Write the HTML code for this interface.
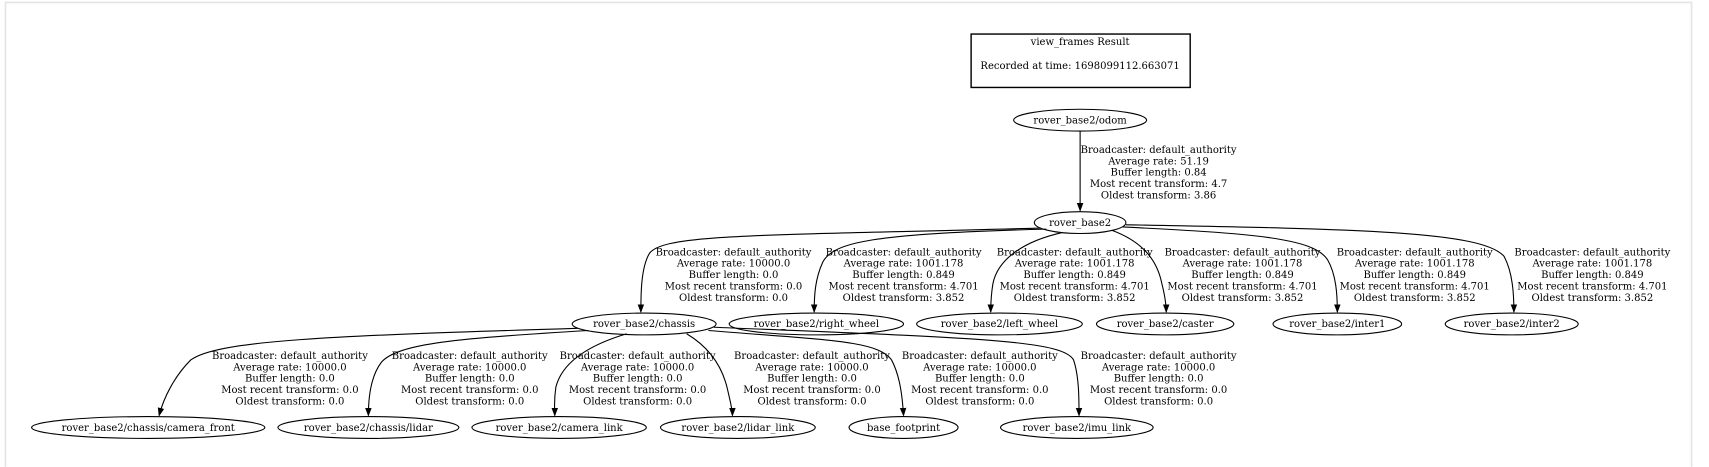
<!DOCTYPE html>
<html><head><meta charset="utf-8"><style>
html,body{margin:0;padding:0;background:#fff;width:1709px;height:467px;overflow:hidden}
svg{display:block}
text{font-family:"DejaVu Serif","Liberation Serif",serif;font-size:9.2px;fill:#000}
.e{fill:none;stroke:#000;stroke-width:1}
</style></head><body>
<svg width="1709" height="467" viewBox="0 0 1568 428" xmlns="http://www.w3.org/2000/svg">
<defs><marker id="a" markerWidth="8" markerHeight="8" refX="7" refY="4" orient="auto" markerUnits="userSpaceOnUse"><path d="M0,1 L8,4 L0,7 Z" fill="#000"/></marker></defs>
<rect x="0" y="0" width="1568" height="428" fill="#fff"/>
<path d="M5,428 L5,2 L1552,2 L1552,428" fill="none" stroke="#e4e4e4" stroke-width="1.5"/>
<rect x="891" y="31" width="201" height="49" fill="none" stroke="#000" stroke-width="1.3"/>
<text x="991" y="41" text-anchor="middle">view_frames Result</text>
<text x="991" y="63" text-anchor="middle">Recorded at time: 1698099112.663071</text>

<g class="e" stroke="#000" fill="none">
<ellipse cx="991" cy="110" rx="61" ry="10"/>
<ellipse cx="991" cy="204" rx="42" ry="10"/>
<ellipse cx="591" cy="297" rx="66" ry="10"/>
<ellipse cx="749" cy="297" rx="80" ry="10"/>
<ellipse cx="917" cy="297" rx="76" ry="10"/>
<ellipse cx="1069" cy="297" rx="63" ry="10"/>
<ellipse cx="1227" cy="297" rx="59" ry="10"/>
<ellipse cx="1387" cy="297" rx="61" ry="10"/>
<ellipse cx="136" cy="392" rx="107" ry="10"/>
<ellipse cx="338" cy="392" rx="83" ry="10"/>
<ellipse cx="513" cy="392" rx="80" ry="10"/>
<ellipse cx="677" cy="392" rx="71" ry="10"/>
<ellipse cx="829" cy="392" rx="50" ry="10"/>
<ellipse cx="988" cy="392" rx="70" ry="10"/>
</g>
<g font-size="9.2">
<text x="991" y="113" text-anchor="middle">rover_base2/odom</text>
<text x="991" y="207" text-anchor="middle">rover_base2</text>
<text x="591" y="300" text-anchor="middle">rover_base2/chassis</text>
<text x="749" y="300" text-anchor="middle">rover_base2/right_wheel</text>
<text x="917" y="300" text-anchor="middle">rover_base2/left_wheel</text>
<text x="1069" y="300" text-anchor="middle">rover_base2/caster</text>
<text x="1227" y="300" text-anchor="middle">rover_base2/inter1</text>
<text x="1387" y="300" text-anchor="middle">rover_base2/inter2</text>
<text x="136" y="395" text-anchor="middle">rover_base2/chassis/camera_front</text>
<text x="338" y="395" text-anchor="middle">rover_base2/chassis/lidar</text>
<text x="513" y="395" text-anchor="middle">rover_base2/camera_link</text>
<text x="677" y="395" text-anchor="middle">rover_base2/lidar_link</text>
<text x="829" y="395" text-anchor="middle">base_footprint</text>
<text x="988" y="395" text-anchor="middle">rover_base2/imu_link</text>
</g>

<g class="e" marker-end="url(#a)">
<path d="M991,120 L991,193"/>
<path d="M955,209 C700,216 610,214 596,232 C588,245 588,270 588,286"/>
<path d="M960,210 C800,214 765,222 755,240 C748,255 747,270 747,286"/>
<path d="M975,213 C935,222 915,240 911,260 C909,272 909,280 909,286"/>
<path d="M1020,211 C1050,222 1062,240 1066,260 C1069,272 1070,280 1070,286"/>
<path d="M1030,208 C1150,214 1205,218 1218,238 C1226,252 1227,270 1227,286"/>
<path d="M1033,206 C1250,210 1360,212 1380,235 C1388,250 1389,270 1389,286"/>
<path d="M530,301 C300,308 200,312 175,330 C160,345 150,365 146,381"/>
<path d="M540,303 C420,310 365,315 350,332 C340,345 338,365 338,381"/>
<path d="M575,306 C535,318 515,335 510,355 C508,368 509,375 509,381"/>
<path d="M630,306 C650,318 662,335 667,355 C670,368 672,375 672,381"/>
<path d="M650,303 C760,312 805,312 818,330 C826,345 828,365 829,381"/>
<path d="M655,300 C900,310 975,312 985,330 C990,345 990,365 990,381"/>
</g>

<g text-anchor="middle">
<text x="1063" y="140">Broadcaster: default_authority</text>
<text x="1063" y="150.5">Average rate: 51.19</text>
<text x="1063" y="161">Buffer length: 0.84</text>
<text x="1063" y="171.5">Most recent transform: 4.7</text>
<text x="1063" y="182">Oldest transform: 3.86</text>

<text x="673" y="234">Broadcaster: default_authority</text>
<text x="673" y="244.5">Average rate: 10000.0</text>
<text x="673" y="255">Buffer length: 0.0</text>
<text x="673" y="265.5">Most recent transform: 0.0</text>
<text x="673" y="276">Oldest transform: 0.0</text>

<text x="829" y="234">Broadcaster: default_authority</text>
<text x="829" y="244.5">Average rate: 1001.178</text>
<text x="829" y="255">Buffer length: 0.849</text>
<text x="829" y="265.5">Most recent transform: 4.701</text>
<text x="829" y="276">Oldest transform: 3.852</text>

<text x="986" y="234">Broadcaster: default_authority</text>
<text x="986" y="244.5">Average rate: 1001.178</text>
<text x="986" y="255">Buffer length: 0.849</text>
<text x="986" y="265.5">Most recent transform: 4.701</text>
<text x="986" y="276">Oldest transform: 3.852</text>

<text x="1140" y="234">Broadcaster: default_authority</text>
<text x="1140" y="244.5">Average rate: 1001.178</text>
<text x="1140" y="255">Buffer length: 0.849</text>
<text x="1140" y="265.5">Most recent transform: 4.701</text>
<text x="1140" y="276">Oldest transform: 3.852</text>

<text x="1298" y="234">Broadcaster: default_authority</text>
<text x="1298" y="244.5">Average rate: 1001.178</text>
<text x="1298" y="255">Buffer length: 0.849</text>
<text x="1298" y="265.5">Most recent transform: 4.701</text>
<text x="1298" y="276">Oldest transform: 3.852</text>

<text x="1461" y="234">Broadcaster: default_authority</text>
<text x="1461" y="244.5">Average rate: 1001.178</text>
<text x="1461" y="255">Buffer length: 0.849</text>
<text x="1461" y="265.5">Most recent transform: 4.701</text>
<text x="1461" y="276">Oldest transform: 3.852</text>

<text x="266" y="329">Broadcaster: default_authority</text>
<text x="266" y="339.5">Average rate: 10000.0</text>
<text x="266" y="350">Buffer length: 0.0</text>
<text x="266" y="360.5">Most recent transform: 0.0</text>
<text x="266" y="371">Oldest transform: 0.0</text>

<text x="431" y="329">Broadcaster: default_authority</text>
<text x="431" y="339.5">Average rate: 10000.0</text>
<text x="431" y="350">Buffer length: 0.0</text>
<text x="431" y="360.5">Most recent transform: 0.0</text>
<text x="431" y="371">Oldest transform: 0.0</text>

<text x="585" y="329">Broadcaster: default_authority</text>
<text x="585" y="339.5">Average rate: 10000.0</text>
<text x="585" y="350">Buffer length: 0.0</text>
<text x="585" y="360.5">Most recent transform: 0.0</text>
<text x="585" y="371">Oldest transform: 0.0</text>

<text x="745" y="329">Broadcaster: default_authority</text>
<text x="745" y="339.5">Average rate: 10000.0</text>
<text x="745" y="350">Buffer length: 0.0</text>
<text x="745" y="360.5">Most recent transform: 0.0</text>
<text x="745" y="371">Oldest transform: 0.0</text>

<text x="899" y="329">Broadcaster: default_authority</text>
<text x="899" y="339.5">Average rate: 10000.0</text>
<text x="899" y="350">Buffer length: 0.0</text>
<text x="899" y="360.5">Most recent transform: 0.0</text>
<text x="899" y="371">Oldest transform: 0.0</text>

<text x="1063" y="329">Broadcaster: default_authority</text>
<text x="1063" y="339.5">Average rate: 10000.0</text>
<text x="1063" y="350">Buffer length: 0.0</text>
<text x="1063" y="360.5">Most recent transform: 0.0</text>
<text x="1063" y="371">Oldest transform: 0.0</text>
</g>
</svg>
</body></html>
